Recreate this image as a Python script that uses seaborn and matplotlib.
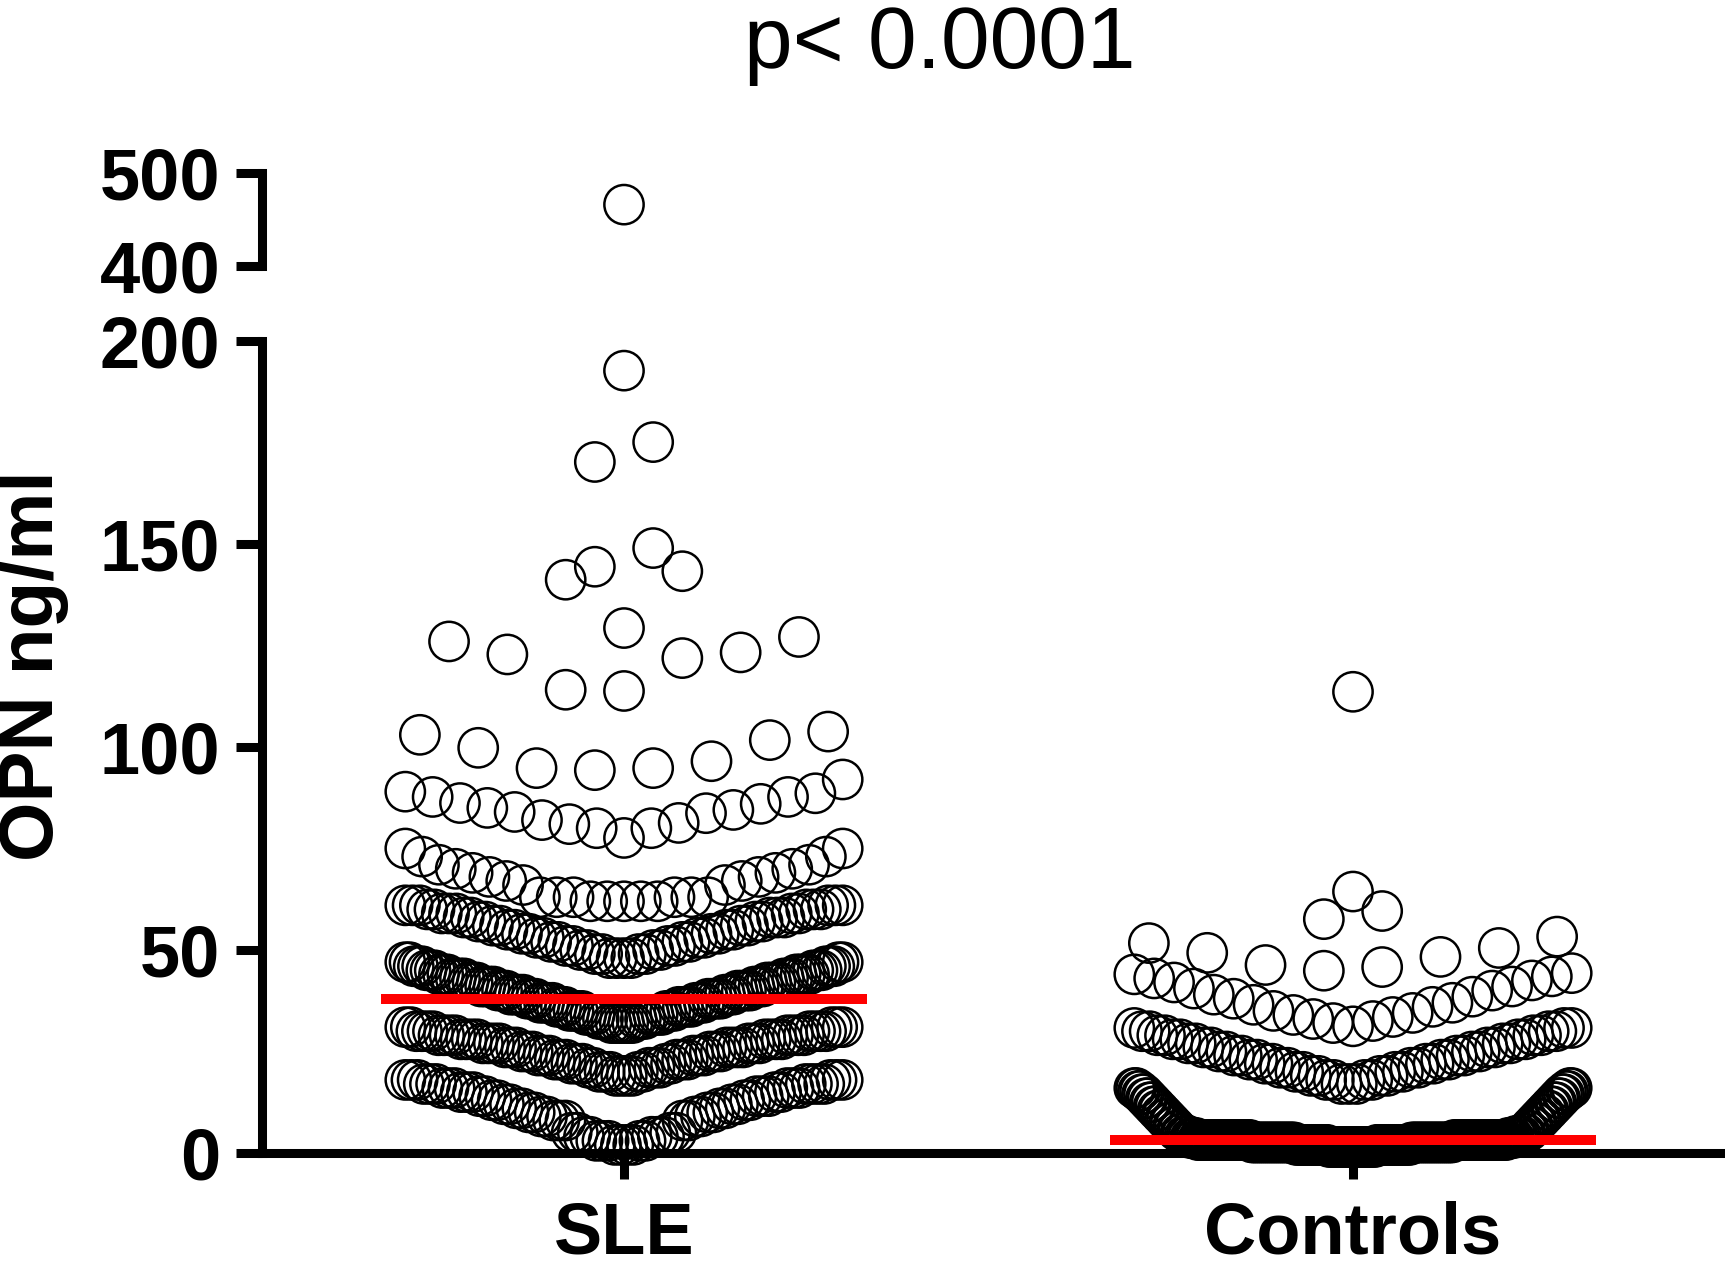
import numpy as np
import pandas as pd
import matplotlib
matplotlib.use('Agg')
import matplotlib.pyplot as plt
import seaborn as sns

# %% data: OPN (ng/ml)
groups = ['SLE', 'Controls']

# dense part: value and number of subjects with (about) that value
sle_dense_values = [2, 3, 4, 5, 8, 9, 10, 11, 12, 13, 14, 15, 16, 17, 18,
                    19, 20, 21, 22, 23, 24, 25, 26, 27, 28, 29, 30, 31,
                    32, 33, 34, 35, 36, 37, 38, 39, 40, 41, 42, 43, 44, 45, 46, 47,
                    48, 49, 50, 51, 52, 53, 54, 55, 56, 57, 58, 59, 60, 61,
                    62, 63, 66, 67, 68, 69, 70, 71, 73, 75]
sle_dense_counts = [4, 5, 5, 4, 5, 4, 4, 4, 4, 4, 5, 5, 6, 7, 6,
                    4, 5, 5, 5, 6, 6, 6, 7, 7, 8, 8, 8, 5,
                    6, 6, 7, 7, 7, 7, 7, 7, 7, 7, 7, 7, 7, 6, 6, 4,
                    4, 4, 4, 4, 4, 4, 4, 4, 4, 4, 5, 5, 5, 6,
                    5, 6, 2, 2, 2, 2, 2, 2, 2, 2]
sle_single_values = [77.6, 80, 80, 81, 81.3, 82, 83.7, 84, 84.5, 85, 86, 86.2,
                     87.7, 87.7, 88.6, 89, 92,
                     94.3, 94.8, 94.8, 96.5, 99.8, 101.7, 103, 103.8,
                     113.8, 114.1, 121.9, 122.8, 123.3, 126.0, 127.1,
                     129.3, 141.2, 143.3, 144.4, 149.0, 170.2, 175.1, 192.7, 466]

ctrl_dense_values = [1.5, 2, 2.6, 3.2, 3.7, 4.2, 4.8, 5.5, 6.5, 7.5, 8.5, 9.5,
                     10.5, 11.5, 12.5, 13.5, 14.5, 15.3, 16,
                     17, 18, 19, 20, 21, 22, 23, 24, 25, 26, 27, 28, 29, 30, 30.8]
ctrl_dense_counts = [25, 35, 45, 56, 8, 7, 4, 4, 4, 4, 4, 4,
                     4, 4, 4, 4, 4, 4, 4,
                     3, 4, 4, 4, 4, 4, 4, 4, 4, 4, 4, 4, 4, 4, 3]
ctrl_single_values = [31.2, 32, 32.5, 33, 33.5, 34, 34.5, 35, 36, 36.5, 37, 38,
                      38.5, 39, 40, 40.5, 41, 42, 42.5, 43, 43.5, 44, 44.3,
                      44.9, 45.8, 46.3, 48.3, 49.3, 50.5, 51.7, 53.3,
                      57.6, 59.6, 64.4, 113.6]

# row limits used to stack the dots (GraphPad style)
sle_rows = [0, 18.5, 31.5, 47.5, 61.5, 76.5, 93, 110, 128.5, 143.8, 160, 180, 250, 600]
ctrl_rows = [0, 16.5, 31.0, 44.6, 56, 62, 80, 250]

title = 'p< 0.0001'
ylabel = 'OPN ng/ml'


# %% scatter layout
def stack_rows(values, edges, half=0.30, dmax=0.08):
    values = np.sort(np.asarray(values, dtype=float))
    offs = np.zeros(len(values))
    bins = np.digitize(values, edges)
    for b in np.unique(bins):
        idx = np.where(bins == b)[0]
        n = len(idx)
        if n == 1:
            continue
        if n % 2:
            ranks = [0] + [s * r for r in range(1, n // 2 + 1) for s in (-1, 1)]
            reach = n // 2
        else:
            ranks = [s * (r + 0.5) for r in range(n // 2) for s in (-1, 1)]
            reach = n / 2 - 0.5
        d = min(dmax, half / reach)
        offs[idx] = np.array(ranks[:n]) * d
    return values, offs


sle = np.concatenate([np.repeat(sle_dense_values, sle_dense_counts), sle_single_values])
ctrl = np.concatenate([np.repeat(ctrl_dense_values, ctrl_dense_counts), ctrl_single_values])

frames = []
for i, (name, vals, edges) in enumerate([(groups[0], sle, sle_rows), (groups[1], ctrl, ctrl_rows)]):
    v, o = stack_rows(vals, edges)
    frames.append(pd.DataFrame({'group': name, 'value': v, 'x': i + o}))
df = pd.concat(frames, ignore_index=True)
medians = df.groupby('group', sort=False)['value'].median()

# %% plot
sns.set_style('ticks')
plt.rcParams['font.family'] = ['Liberation Sans', 'DejaVu Sans']
plt.rcParams['text.color'] = 'black'
plt.rcParams['xtick.color'] = 'black'
plt.rcParams['ytick.color'] = 'black'
plt.rcParams['axes.labelcolor'] = 'black'

W, H = 1725, 1262
fig = plt.figure(figsize=(W / 100, H / 100), dpi=100)
ax = fig.add_axes([262 / W, (H - 1153) / H, 1 - 262 / W, (1153 - 341) / H])
ax_top = fig.add_axes([262 / W, (H - 266) / H, 1 - 262 / W, (266 - 173) / H], sharex=ax)

low = df[df['value'] <= 200]
high = df[df['value'] > 300]
for a, d in [(ax, low), (ax_top, high)]:
    sns.scatterplot(data=d, x='x', y='value', ax=a, s=800, marker='o',
                    color='black', facecolor='none', linewidth=1.8,
                    legend=False, clip_on=False, zorder=3)
    for coll in a.collections:
        coll.set_facecolor('none')
        coll.set_edgecolor('black')

for i, g in enumerate(groups):
    ax.hlines(medians[g], i - 0.333, i + 0.333, colors='red', lw=7.2, zorder=5)

ax.set_xlim(-(624 - 262) / 729, (W - 624) / 729)
ax.set_ylim(0, 200)
ax.set_yticks([0, 50, 100, 150, 200])
ax.set_xticks([0, 1], labels=groups)
ax_top.set_ylim(400, 500)
ax_top.set_yticks([400, 500])

sns.despine(ax=ax)
sns.despine(ax=ax_top, bottom=True)
ax_top.tick_params(axis='x', bottom=False, labelbottom=False)

for a in (ax, ax_top):
    a.set_xlabel('')
    a.set_ylabel('')
    a.set_facecolor('none')
    for sp in a.spines.values():
        sp.set_linewidth(6.5)
        sp.set_color('black')
    a.tick_params(axis='y', length=19, width=6.5, pad=11, labelsize=52,
                  color='black', labelcolor='black')
    for lab in a.get_yticklabels():
        lab.set_fontweight('bold')
ax.tick_params(axis='x', length=19, width=6.5, pad=15, labelsize=52,
               color='black', labelcolor='black')
for lab in ax.get_xticklabels():
    lab.set_fontweight('bold')

fig.text(34 / W, 1 - 666 / H, ylabel, rotation=90, ha='center', va='center',
         fontsize=55, fontweight='bold', color='black')
fig.text(940 / W, 1 - 68 / H, title, ha='center', va='baseline', fontsize=63, color='black')

fig.savefig('out.png', dpi=100)
